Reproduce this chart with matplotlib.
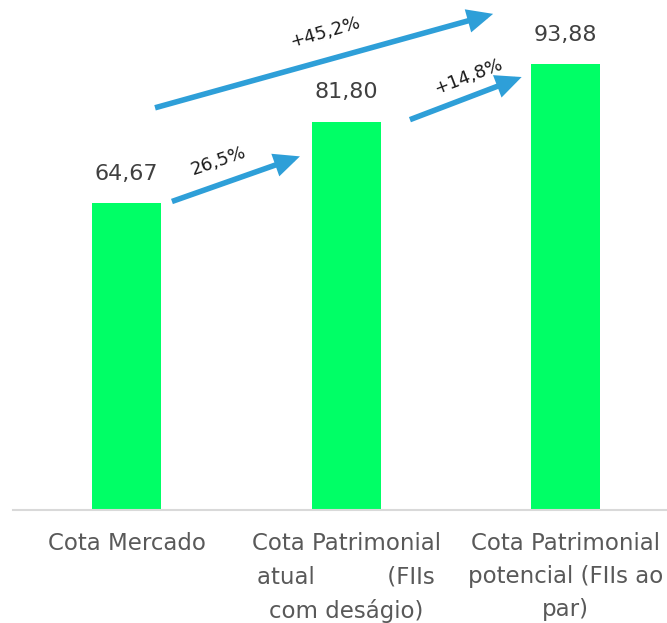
import matplotlib
matplotlib.use("Agg")
import matplotlib.pyplot as plt

# Data
categories = [
    "Cota Mercado",
    "Cota Patrimonial\natual          (FIIs\ncom deságio)",
    "Cota Patrimonial\npotencial (FIIs ao\npar)",
]
values = [64.67, 81.80, 93.88]
value_labels = ["64,67", "81,80", "93,88"]

# Growth arrows: (from bar index, to bar index, label)
growth_pairs = [(0, 1, "26,5%"), (1, 2, "+14,8%"), (0, 2, "+45,2%")]

bar_color = "#00FF66"
arrow_color = "#2E9FD8"
text_color = "#404040"
tick_color = "#595959"
font = ["DejaVu Sans"]

fig = plt.figure(figsize=(6.67, 6.23), dpi=100)
ax = fig.add_axes([13 / 667, 1 - 510 / 623, 654 / 667, 510 / 623])

x = list(range(len(values)))
ax.bar(x, values, width=0.314, color=bar_color, zorder=2)
ax.set_xlim(-0.517, 2.462)
ax.set_ylim(0, 107.4)

for xi, v, lab in zip(x, values, value_labels):
    ax.text(xi, v + 4.9, lab, ha="center", va="baseline", fontsize=16,
            color=text_color, family=font)

# Arrow geometry expressed relative to bar positions and heights
arrow_specs = {
    (0, 1): ((0.207, values[0] + 0.3), (0.79, values[0] + 9.8), (0.42, values[0] + 8.8), 19),
    (1, 2): ((1.291, values[1] + 0.4), (1.80, values[2] - 2.7), (1.555, values[2] - 2.7), 21),
    (0, 2): ((0.13, values[1] + 2.9), (1.67, values[2] + 10.6), (0.905, values[2] + 6.8), 16),
}
for i, j, lab in growth_pairs:
    start, end, tpos, ang = arrow_specs[(i, j)]
    ax.annotate("", xy=end, xytext=start,
                arrowprops=dict(arrowstyle="-|>,head_length=1.2,head_width=0.55",
                                color=arrow_color, lw=4.0, shrinkA=0, shrinkB=0,
                                capstyle="butt", joinstyle="miter"),
                zorder=3)
    ax.text(tpos[0], tpos[1], lab, ha="center", va="center", rotation=ang,
            fontsize=13, color="#1a1a1a", family=font)

for side in ["left", "right", "top"]:
    ax.spines[side].set_visible(False)
ax.spines["bottom"].set_color("#D9D9D9")
ax.spines["bottom"].set_linewidth(1.5)
ax.set_yticks([])
ax.set_xticks(x)
ax.set_xticklabels(categories, fontsize=16.5, color=tick_color, family=font,
                   linespacing=1.56, va="top")
ax.tick_params(axis="x", length=0, pad=16)

fig.savefig("out.png", dpi=100)
